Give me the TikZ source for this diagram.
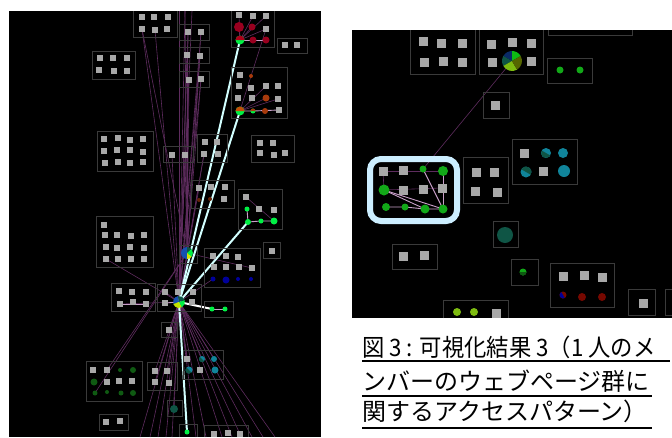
\documentclass[tikz,border=0pt]{standalone}
\usepackage{fontspec}
\newfontfamily\cjk{Noto Sans CJK JP}
\pgfdeclarelayer{panel}
\pgfdeclarelayer{edges}
\pgfsetlayers{panel,edges,main}
\definecolor{grpc}{HTML}{3A3A3A}
\definecolor{sqc}{HTML}{A8A8A8}
\definecolor{edgep}{HTML}{5E2C5E}
\definecolor{edgel}{HTML}{C9A0C9}
\definecolor{thk}{HTML}{D2FFFF}
\definecolor{hlc}{HTML}{CCEEFF}
\definecolor{gbright}{HTML}{00F044}
\definecolor{gmid}{HTML}{12A818}
\definecolor{gdark}{HTML}{0F5A12}
\definecolor{redc}{HTML}{99001F}
\definecolor{orc}{HTML}{A83A0C}
\definecolor{bluc}{HTML}{00009A}
\definecolor{cyc}{HTML}{10849A}
\definecolor{tealc}{HTML}{0F5545}
\definecolor{darkr}{HTML}{760800}
\definecolor{ygc}{HTML}{7DBB10}
\definecolor{oliv}{HTML}{556600}
\definecolor{navy}{HTML}{0A2A66}
\definecolor{pblue}{HTML}{1650B0}
\definecolor{pyel}{HTML}{D8E000}
\begin{document}
\begin{tikzpicture}[x=1pt,y=-1pt,
  grp/.style={draw=grpc,line width=0.9pt},
  sq/.style={fill=sqc,inner sep=0pt,minimum size=6pt},
  sqr/.style={fill=sqc,inner sep=0pt,minimum size=9pt},
  cdot/.style={circle,inner sep=0pt,minimum size=#1},
  pe/.style={draw=edgep,line width=0.6pt},
  pl/.style={draw=edgel,line width=0.9pt},
  tk/.style={draw=thk,line width=2pt},
  hlbox/.style={draw=hlc,line width=6pt,rounded corners=11pt},
  captxt/.style={font=\cjk\fontsize{24}{24}\selectfont,anchor=base west,inner sep=0pt},
  uline/.style={draw=black,line width=1.4pt}]
\useasboundingbox (0,0) rectangle (672,437);
\begin{pgfonlayer}{panel}
\fill[white] (0,0) rectangle (672,437);
\fill[black] (9,11) rectangle (321,437);
\fill[black] (352,30) rectangle (672,318);
\end{pgfonlayer}

% ---------- left panel group boxes
\draw[grp] (133,11) -- (133,37) -- (177,37) -- (177,11);
\draw[grp] (231,11) -- (231,47) -- (274,47) -- (274,11);
\draw[grp] (179,24) rectangle (209,40);
\draw[grp] (179,47) rectangle (209,63);
\draw[grp] (179,71) rectangle (209,87);
\draw[grp] (277,38) rectangle (307,53);
\draw[grp] (92,51) rectangle (135,79);
\draw[grp] (231,67) rectangle (287,118);
\draw[grp] (97,131) rectangle (153,171);
\draw[grp] (251,135) rectangle (294,162);
\draw[grp] (163,146) rectangle (193,162);
\draw[grp] (197,134) rectangle (227,162);
\draw[grp] (191,180) rectangle (234,208);
\draw[grp] (238,189) rectangle (282,229);
\draw[grp] (96,216) rectangle (153,267);
\draw[grp] (263,242) rectangle (280,258);
\draw[grp] (204,248) rectangle (260,287);
\draw[grp] (179,245) rectangle (197,263);
\draw[grp] (111,283) rectangle (155,311);
\draw[grp] (157,284) rectangle (201,311);
\draw[grp] (204,301) rectangle (233,317);
\draw[grp] (161,322) rectangle (177,337);
\draw[grp] (86,361) rectangle (142,401);
\draw[grp] (147,362) rectangle (177,390);
\draw[grp] (183,350) rectangle (223,379);
\draw[grp] (167,400) rectangle (182,416);
\draw[grp] (99,414) rectangle (128,430);
\draw[grp] (179,437) -- (179,424) -- (197,424) -- (197,437);
\draw[grp] (204,437) -- (204,425) -- (248,425) -- (248,437);

% ---------- left panel squares
\foreach \p [count=\i] in {(142,17),(154,17),(168,17),(142,29),(155,30),(167,29)} \node[sq] (a\i) at \p {};
\foreach \p [count=\i] in {(188,32),(201,32),(187,55),(200,56),(189,80),(201,79)} \node[sq] (c\i) at \p {};
\foreach \p [count=\i] in {(239,15),(253,16),(266,16),(266,29)} \node[sq] (b\i) at \p {};
\foreach \p [count=\i] in {(285,45),(297,45)} \node[sq] (cc\i) at \p {};
\foreach \p [count=\i] in {(100,58),(113,58),(127,58),(99,70),(114,71),(127,71)} \node[sq] (d\i) at \p {};
\foreach \p [count=\i] in {(240,75),(239,86),(251,88),(266,86),(278,86),(238,98),(252,98),(278,99),(279,110)} \node[sq] (e\i) at \p {};
\foreach \p [count=\i] in {(104,139),(118,138),(130,140),(143,139),(104,151),(117,150),(130,150),(143,152),(105,163),(118,162),(130,163),(143,162)} \node[sq] (f\i) at \p {};
\foreach \p [count=\i] in {(260,143),(273,143),(260,153),(274,155),(285,153)} \node[sq] (g\i) at \p {};
\foreach \p [count=\i] in {(172,155),(185,155)} \node[sq] (h\i) at \p {};
\foreach \p [count=\i] in {(205,142),(217,142),(204,154),(218,154)} \node[sq] (i\i) at \p {};
\foreach \p [count=\i] in {(199,188),(211,187),(225,187),(224,199)} \node[sq] (j\i) at \p {};
\foreach \p [count=\i] in {(246,197),(259,209),(274,210)} \node[sq] (k\i) at \p {};
\foreach \p [count=\i] in {(104,225),(105,235),(117,235),(131,236),(144,235),(106,247),(117,248),(130,247),(144,248),(106,259),(118,259),(131,259),(144,259)} \node[sq] (l\i) at \p {};
\node[sq] (m1) at (272,251) {};
\foreach \p [count=\i] in {(213,256),(226,256),(238,257),(214,267),(226,267),(239,267),(252,268)} \node[sq] (n\i) at \p {};
\foreach \p [count=\i] in {(119,291),(132,292),(146,292),(120,304),(133,302),(146,304)} \node[sq] (o\i) at \p {};
\foreach \p [count=\i] in {(165,292),(178,292),(193,292),(165,303),(192,302)} \node[sq] (p\i) at \p {};
\node[sq] (r1) at (169,330) {};
\foreach \p [count=\i] in {(93,370),(107,370),(107,382),(119,381),(132,381)} \node[sq] (s\i) at \p {};
\foreach \p [count=\i] in {(155,371),(167,371),(155,382),(169,383)} \node[sq] (t\i) at \p {};
\foreach \p [count=\i] in {(187,359),(200,370)} \node[sq] (u\i) at \p {};
\foreach \p [count=\i] in {(106,422),(120,421)} \node[sq] (w\i) at \p {};
\foreach \p [count=\i] in {(214,434),(228,433),(240,434)} \node[sq] (y\i) at \p {};

% ---------- left panel circles
\foreach \p/\s [count=\i] in {(239,27)/10,(252,27)/7,(253,40)/7,(266,40)/7} \node[cdot=\s,fill=redc] (rc\i) at \p {};
\foreach \p/\s [count=\i] in {(251,76)/4,(266,98)/7,(265,111)/6} \node[cdot=\s,fill=orc] (oc\i) at \p {};
\node[cdot=5,fill=gbright] (oc4) at (253,111) {};
\fill[orc] (oc4.center) ++(0:2.5) arc (0:-180:2.5) -- cycle;
\foreach \p [count=\i] in {(199,200),(210,199)} \node[cdot=4,fill=orc!60!black] (jc\i) at \p {};
\foreach \p/\s [count=\i] in {(247,209)/5,(248,222)/6,(261,221)/5,(274,221)/7} \node[cdot=\s,fill=gbright] (kc\i) at \p {};
\foreach \p/\s [count=\i] in {(213,279)/5,(226,280)/7,(238,279)/4,(251,279)/4} \node[cdot=\s,fill=bluc] (nc\i) at \p {};
\foreach \p [count=\i] in {(212,309),(225,309)} \node[cdot=5,fill=gbright] (q\i) at \p {};
\foreach \p/\s [count=\i] in {(120,370)/4,(133,370)/6,(94,382)/7,(95,393)/5,(107,392)/4,(121,393)/5,(133,393)/6} \node[cdot=\s,fill=gdark] (sc\i) at \p {};
\foreach \p/\s [count=\i] in {(202,359)/6,(214,359)/6,(189,370)/7,(215,370)/7} \node[cdot=\s,fill=cyc] (uc\i) at \p {};
\fill[tealc] (uc1.center) ++(45:3) arc (45:225:3) -- cycle;
\fill[tealc] (uc3.center) ++(45:3.5) arc (45:225:3.5) -- cycle;
\node[cdot=8,fill=tealc] (v1) at (174,409) {};
\node[cdot=5,fill=gbright] (xc) at (187,432) {};

% special nodes: red, orange, pies
\node[cdot=9,fill=gbright] (rn) at (240,40) {};
\fill[redc!80!red] (rn.center) ++(0:4.5) arc (0:-180:4.5) -- cycle;
\node[cdot=9,fill=gbright] (on) at (240,111) {};
\fill[orc!70!orange] (on.center) ++(0:4.5) arc (0:-180:4.5) -- cycle;
\node[cdot=12] (pie) at (187,253) {};
\foreach \a/\b/\c in {90/270/pblue,270/320/tealc,320/400/gbright,400/450/pyel} \fill[\c] (pie.center) -- ++(\a:6) arc (\a:\b:6) -- cycle;
\node[cdot=12] (hub) at (179,302) {};
\foreach \a/\b/\c in {-100/-200/pblue,-200/-300/pyel!90!green,-300/-380/gbright,-20/-100/tealc} \fill[\c] (hub.center) -- ++(\a:6) arc (\a:\b:6) -- cycle;

% free ends
\foreach \x/\y [count=\i] in {185/11,179/11,192/11} \coordinate (top\i) at (\x,\y);
\foreach \x [count=\i] in {140,150,158,166,172,196,206,222,232,252,263,275} \coordinate (bot\i) at (\x,437);

\begin{pgfonlayer}{edges}
% purple fan from hub
\foreach \t in {a4,a5,c1,c2,c3,c4,c5,c6,top1,top2,top3,b4,i3,h1,h2,j1,l10,o4,p1,p2,p4,nc1,t1,t2,t3,t4,u1,uc1,uc2,uc3,r1,v1,y3,bot1,bot2,bot3,bot4,bot5,bot6,bot7,bot8,bot9,bot10,bot11,bot12}
  \draw[pe] (hub.center) -- (\t.center);
% purple fan from pie
\foreach \t in {a4,c1,c2,c3,c4,c5,c6,top1,h2,i3,n7,s2,sc4,hub}
  \draw[pe] (pie.center) -- (\t.center);
% red group
\foreach \t in {b1,b2,b3,b4,rc1,rc2,rc3} \draw[pe] (rn.center) -- (\t.center);
\draw[pl] (rn.center) -- (rc4.center);
% orange group
\foreach \t in {e4,e8,oc2} \draw[pe] (on.center) -- (\t.center);
\draw[pl] (on.center) -- (oc4.center) -- (e9.center);
% green group
\draw[pe] (k1.center) -- (kc4.center);
\draw[pl] (kc1.center) -- (kc2.center) -- (kc3.center) -- (kc4.center);
% small groups
\draw[pl] (q1.center) -- (q2.center);
\draw[pl] (o4.center) -- (o6.center);
\draw[pl] (p4.center) -- (hub.center);
% thick edges
\draw[tk] (hub.center) -- (rn.center);
\draw[tk] (hub.center) -- (on.center);
\draw[tk] (hub.center) -- (kc2.center);
\draw[tk] (hub.center) -- (xc.center);
\draw[tk,draw=white] (hub.center) -- (q1.center);
\end{pgfonlayer}

% ---------- right panel group boxes
\draw[grp] (410,30) -- (410,74) -- (475,74) -- (475,30);
\draw[grp] (479,30) -- (479,74) -- (543,74) -- (543,30);
\draw[grp] (548,30) -- (548,35) -- (632,35) -- (632,30);
\draw[grp] (547,58) rectangle (592,83);
\draw[grp] (483,92) rectangle (509,118);
\draw[grp] (512,139) rectangle (577,184);
\draw[grp] (463,157) rectangle (508,203);
\draw[grp] (493,221) rectangle (518,247);
\draw[grp] (392,244) rectangle (437,269);
\draw[grp] (511,259) rectangle (538,285);
\draw[grp] (550,263) rectangle (614,307);
\draw[grp] (628,289) rectangle (655,315);
\draw[grp] (672,289) -- (665,289) -- (665,315) -- (672,315);
\draw[grp] (443,318) -- (443,300) -- (508,300) -- (508,318);
\draw[hlbox] (370,159) rectangle (457,221);

% right squares
\foreach \p [count=\i] in {(423,41),(441,43),(462,43),(424,62),(443,61),(462,62)} \node[sqr] (ra\i) at \p {};
\foreach \p [count=\i] in {(491,44),(512,42),(531,43),(492,62),(531,61)} \node[sqr] (rb\i) at \p {};
\node[sqr] (re1) at (495,105) {};
\foreach \p [count=\i] in {(524,153),(543,171)} \node[sqr] (rf\i) at \p {};
\foreach \p [count=\i] in {(383,171),(403,170),(403,190),(423,189),(442,188)} \node[sqr] (rg\i) at \p {};
\foreach \p [count=\i] in {(476,172),(494,172),(475,191),(497,192)} \node[sqr] (rh\i) at \p {};
\foreach \p [count=\i] in {(403,256),(424,255)} \node[sqr] (rj\i) at \p {};
\foreach \p [count=\i] in {(563,276),(584,275),(602,277)} \node[sqr] (rl\i) at \p {};
\node[sqr] (rm1) at (643,303) {};
\node[sqr] (ro1) at (496,313) {};

% right circles
\foreach \p [count=\i] in {(560,70),(580,70)} \node[cdot=7,fill=gmid] (rd\i) at \p {};
\foreach \p/\s [count=\i] in {(546,153)/10,(563,153)/10,(526,172)/11,(564,171)/12} \node[cdot=\s,fill=cyc] (rfc\i) at \p {};
\fill[tealc] (rfc1.center) ++(30:5) arc (30:210:5) -- cycle;
\fill[tealc] (rfc3.center) ++(-150:5.5) arc (-150:30:5.5) -- cycle;
\foreach \p/\s [count=\i] in {(423,169)/7,(443,171)/10,(384,190)/11,(386,207)/8,(405,207)/7,(425,209)/9,(443,209)/9} \node[cdot=\s,fill=gmid] (rgc\i) at \p {};
\node[cdot=16,fill=tealc] (ri1) at (505,235) {};
\node[cdot=7,fill=gmid] (rk1) at (523,272) {};
\fill[gdark] (rk1.center) ++(0:3.5) arc (0:180:3.5) -- cycle;
\node[cdot=7,fill=darkr] (rlc1) at (563,295) {};
\fill[bluc] (rlc1.center) ++(60:3.5) arc (60:240:3.5) -- cycle;
\node[cdot=8,fill=darkr] (rlc2) at (582,297) {};
\node[cdot=8,fill=darkr] (rlc3) at (602,297) {};
\foreach \p [count=\i] in {(457,312),(474,312)} \node[cdot=8,fill=ygc] (roc\i) at \p {};
\node[cdot=20] (rpie) at (512,61) {};
\foreach \a/\b/\c in {-90/-150/navy,-30/-90/gmid!80!green,-150/-210/tealc,-210/-300/ygc,-300/-390/oliv} \fill[\c] (rpie.center) -- ++(\a:10) arc (\a:\b:10) -- cycle;

\begin{pgfonlayer}{edges}
\draw[pe] (rpie.center) -- (rgc1.center);
\draw[pe] (rg1.center) -- (rgc2.center);
\draw[pe] (rg1.center) -- (rgc3.center);
\draw[pe] (rgc3.center) -- (rg5.center);
\draw[pl] (rgc3.center) -- (rgc7.center);
\draw[pl] (rgc3.center) -- (rgc6.center);
\draw[pl] (rgc4.center) -- (rgc5.center) -- (rgc6.center) -- (rgc7.center);
\draw[pl] (rgc1.center) -- (rgc7.center);
\draw[pl] (rgc2.center) -- (rgc7.center);
\end{pgfonlayer}

% ---------- caption
\node[captxt] (cap1) at (362,356) {\scalebox{0.93}[1]{図 3 : 可視化結果 3（1 人のメ}};
\node[captxt] (cap2) at (362,390) {ンバーのウェブページ群に};
\node[captxt] (cap3) at (362,420) {関するアクセスパターン）};
\draw[uline] (362,361) -- (670,361);
\draw[uline] (362,396) -- (652,396);
\draw[uline] (362,428) -- (652,428);
\end{tikzpicture}
\end{document}
